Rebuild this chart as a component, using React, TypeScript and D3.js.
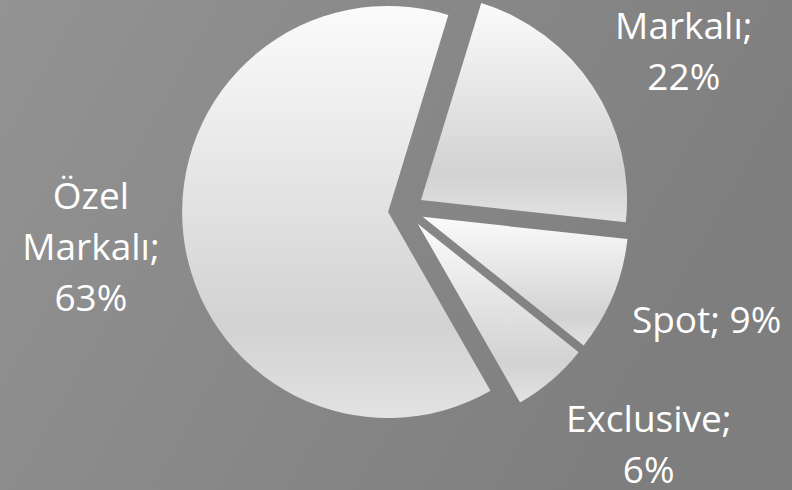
import * as d3 from "d3";
import { useMemo } from "react";

const WIDTH = 792;
const HEIGHT = 490;

// slices, clockwise from the first slice angle
const CATEGORIES = ["Markalı", "Spot", "Exclusive", "Özel Markalı"];
const SHARES = [22, 9, 6, 63];

const CX = 406;
const CY = 210;
const RADIUS = 206;
const EXPLODE = 18;
const FIRST_ANGLE = (17 * Math.PI) / 180;

const FONT_SIZE = 37;
const LINE_HEIGHT = 51;
const WRAP_WIDTH = 165;
const LABEL_RADIUS = 310;

// hand placement tweaks for the data labels (Excel's best-fit)
const LABEL_NUDGE: Record<string, [number, number]> = {
  Markalı: [19, 12],
  Spot: [14, -8],
  Exclusive: [41, -1],
  "Özel Markalı": [-7, 2],
};

const FONT = `${FONT_SIZE}px "Open Sans"`;

function measure(text: string): number {
  const canvas = document.createElement("canvas");
  const ctx = canvas.getContext("2d");
  if (!ctx) return text.length * FONT_SIZE * 0.5;
  ctx.font = FONT;
  return ctx.measureText(text).width;
}

function wrap(text: string): string[] {
  const words = text.split(" ");
  const lines: string[] = [];
  let cur = "";
  for (const w of words) {
    const next = cur ? `${cur} ${w}` : w;
    if (cur && measure(next) > WRAP_WIDTH) {
      lines.push(cur);
      cur = w;
    } else {
      cur = next;
    }
  }
  if (cur) lines.push(cur);
  return lines;
}

export default function App() {
  const slices = useMemo(() => {
    const data = CATEGORIES.map((name, i) => ({ name, value: SHARES[i] }));
    const pie = d3
      .pie<{ name: string; value: number }>()
      .value((d) => d.value)
      .sort(null)
      .startAngle(FIRST_ANGLE)
      .endAngle(FIRST_ANGLE + 2 * Math.PI);
    const arc = d3
      .arc<d3.PieArcDatum<{ name: string; value: number }>>()
      .innerRadius(0)
      .outerRadius(RADIUS);
    return pie(data).map((d) => {
      const mid = (d.startAngle + d.endAngle) / 2;
      const dx = Math.sin(mid) * EXPLODE;
      const dy = -Math.cos(mid) * EXPLODE;
      const nudge = LABEL_NUDGE[d.data.name] ?? [0, 0];
      const lx = CX + Math.sin(mid) * LABEL_RADIUS + nudge[0];
      const ly = CY - Math.cos(mid) * LABEL_RADIUS + nudge[1];
      return {
        name: d.data.name,
        path: arc(d) ?? "",
        dx,
        dy,
        lx,
        ly,
        lines: wrap(`${d.data.name}; ${d.data.value}%`),
      };
    });
  }, []);

  return (
    <svg
      width={WIDTH}
      height={HEIGHT}
      style={{ position: "absolute", left: 0, top: 0 }}
    >
      <defs>
        <linearGradient id="bg" x1="0" y1="0" x2="1" y2="0.35">
          <stop offset="0" stopColor="#939393" />
          <stop offset="1" stopColor="#7e7e7e" />
        </linearGradient>
        <linearGradient id="slice" x1="0" y1="0" x2="0" y2="1">
          <stop offset="0" stopColor="#fbfbfb" />
          <stop offset="0.78" stopColor="#d2d2d2" />
          <stop offset="1" stopColor="#e2e2e2" />
        </linearGradient>
      </defs>
      <rect width={WIDTH} height={HEIGHT} fill="url(#bg)" />
      <g transform={`translate(${CX},${CY})`}>
        {slices.map((s) => (
          <path
            key={s.name}
            d={s.path}
            transform={`translate(${s.dx},${s.dy})`}
            fill="url(#slice)"
          />
        ))}
      </g>
      <g
        fontFamily='"Open Sans", sans-serif'
        fontSize={FONT_SIZE}
        fill="#ffffff"
        textAnchor="middle"
      >
        {slices.map((s) => {
          const n = s.lines.length;
          const y0 = s.ly - ((n - 1) * LINE_HEIGHT) / 2 + 13;
          return (
            <text key={`l-${s.name}`} x={s.lx} y={y0}>
              {s.lines.map((line, i) => (
                <tspan key={i} x={s.lx} y={y0 + i * LINE_HEIGHT}>
                  {line}
                </tspan>
              ))}
            </text>
          );
        })}
      </g>
    </svg>
  );
}
